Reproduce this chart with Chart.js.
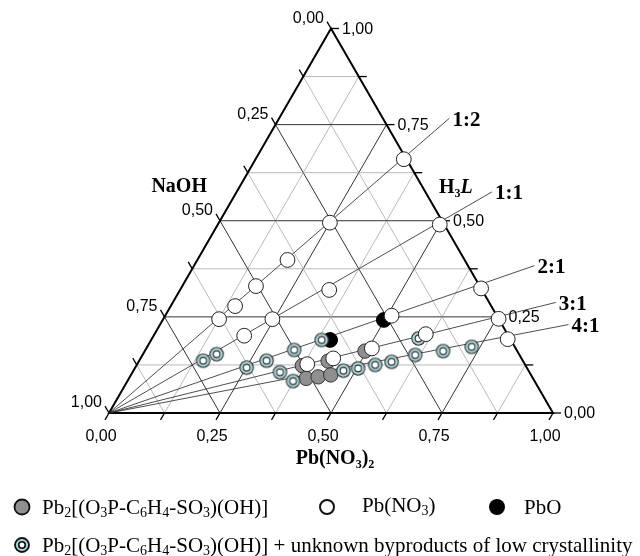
<!DOCTYPE html>
<html>
<head>
<meta charset="utf-8">
<script src="https://cdn.jsdelivr.net/npm/chart.js@4.4.1/dist/chart.umd.min.js"></script>
<style>
body { margin: 0; background: #fff; }
#wrap { position: relative; width: 640px; height: 556px; overflow: hidden; }
#tern { position: absolute; left: 0; top: 0; }
.lg { position: absolute; font-family: "Liberation Serif", "Times New Roman", serif; font-size: 21px; line-height: 24px; white-space: nowrap; color: #000; }
.lg sub { font-size: 14px; vertical-align: -3px; line-height: 0; }
.mk { position: absolute; }
</style>
</head>
<body>
<div id="wrap">
  <canvas id="tern" width="640" height="556"></canvas>

  <svg class="mk" style="left:12px;top:497px" width="20" height="20"><circle cx="10" cy="10" r="7.5" fill="#8f8f8f" stroke="#111" stroke-width="1.8"/></svg>
  <div class="lg" style="left:42px;top:495px">Pb<sub>2</sub>[(O<sub>3</sub>P-C<sub>6</sub>H<sub>4</sub>-SO<sub>3</sub>)(OH)]</div>

  <svg class="mk" style="left:317px;top:497px" width="20" height="20"><circle cx="10" cy="10" r="7" fill="#fff" stroke="#111" stroke-width="2"/></svg>
  <div class="lg" style="left:362px;top:493px">Pb(NO<sub>3</sub>)</div>

  <svg class="mk" style="left:487px;top:497px" width="20" height="20"><circle cx="10" cy="10" r="8" fill="#000"/></svg>
  <div class="lg" style="left:524px;top:495px">PbO</div>

  <svg class="mk" style="left:12px;top:535px" width="20" height="20"><circle cx="10" cy="10" r="7" fill="#a9d8dc" stroke="#111" stroke-width="1.8"/><circle cx="10" cy="10" r="3.3" fill="#fff" stroke="#111" stroke-width="1.6"/></svg>
  <div class="lg" style="left:42px;top:533px">Pb<sub>2</sub>[(O<sub>3</sub>P-C<sub>6</sub>H<sub>4</sub>-SO<sub>3</sub>)(OH)] + unknown byproducts of low crystallinity</div>
</div>
<script>
// tick labels on every axis (0 .. 1 by 0.25)
const tickLabels = ['0,00', '0,25', '0,50', '0,75', '1,00'];
// Pb : H3L ratio lines starting in the NaOH corner
const ratioLabels = ['1:2', '1:1', '2:1', '3:1', '4:1'];
const ratioPbPerL = [0.5, 1, 2, 3, 4];

// mole fractions: Pb(NO3)2 and H3L (NaOH is the rest)
const greyPb = [0.496, 0.426, 0.374, 0.399, 0.424, 0.450];
const greyL  = [0.161, 0.135, 0.123, 0.090, 0.094, 0.099];

const whitePb = [0.334, 0.250, 0.500, 0.203, 0.166, 0.145, 0.126, 0.336, 0.246, 0.204,
                 0.676, 0.510, 0.755, 0.611, 0.802, 0.508, 0.434, 0.383];
const whiteL  = [0.660, 0.495, 0.490, 0.398, 0.330, 0.278, 0.244, 0.320, 0.244, 0.201,
                 0.324, 0.253, 0.245, 0.205, 0.192, 0.168, 0.142, 0.127];

const blackPb = [0.498, 0.403];
const blackL  = [0.242, 0.190];

const mixPb = [0.144, 0.166, 0.335, 0.384, 0.251, 0.287, 0.332, 0.373, 0.473, 0.503,
               0.537, 0.570, 0.614, 0.672, 0.731, 0.600];
const mixL  = [0.136, 0.153, 0.164, 0.190, 0.118, 0.136, 0.106, 0.083, 0.110, 0.116,
               0.125, 0.133, 0.151, 0.161, 0.172, 0.194];

const SQ = Math.sqrt(3) / 2;
function cart(pb, l) {
    return { x: pb + l / 2, y: l * SQ };
}
function toPoints(pbs, ls) {
    return pbs.map((pb, i) => cart(pb, ls[i]));
}

// where the triangle sits on the canvas
const OX = 109, OY = 413, U = 444;
const reach = 1.15;

function ringMarker(r) {
    const s = Math.ceil(r * 2 + 3);
    const c = document.createElement('canvas');
    c.width = s;
    c.height = s;
    const g = c.getContext('2d');
    g.lineWidth = 1.1;
    g.strokeStyle = '#333';
    g.fillStyle = '#a9d8dc';
    g.beginPath();
    g.arc(s / 2, s / 2, r, 0, 2 * Math.PI);
    g.fill();
    g.stroke();
    g.fillStyle = '#fff';
    g.beginPath();
    g.arc(s / 2, s / 2, r * 0.5, 0, 2 * Math.PI);
    g.fill();
    g.stroke();
    return c;
}

function richText(ctx, parts, x, y, size) {
    // parts: [text, style] ; style 'b' bold, 'bi' bold italic, 's' subscript
    const fam = '"Liberation Serif", "Times New Roman", serif';
    const fontOf = (st) => st === 's' ? 'bold ' + Math.round(size * 0.62) + 'px ' + fam
        : (st === 'bi' ? 'italic bold ' : 'bold ') + size + 'px ' + fam;
    let w = 0;
    parts.forEach(p => { ctx.font = fontOf(p[1]); w += ctx.measureText(p[0]).width; });
    let cx = x - w / 2;
    ctx.textAlign = 'left';
    ctx.textBaseline = 'alphabetic';
    parts.forEach(p => {
        ctx.font = fontOf(p[1]);
        ctx.fillText(p[0], cx, p[1] === 's' ? y + size * 0.2 : y);
        cx += ctx.measureText(p[0]).width;
    });
}

const ternaryFrame = {
    id: 'ternaryFrame',
    beforeDatasetsDraw(chart) {
        const ctx = chart.ctx;
        const xs = chart.scales.x, ys = chart.scales.y;
        const px = (pb, l) => {
            const c = cart(pb, l);
            return [xs.getPixelForValue(c.x), ys.getPixelForValue(c.y)];
        };
        const seg = (a, b) => {
            ctx.beginPath();
            ctx.moveTo(a[0], a[1]);
            ctx.lineTo(b[0], b[1]);
            ctx.stroke();
        };
        ctx.save();

        // grid, every 1/8
        for (let k = 1; k < 8; k++) {
            const f = k / 8;
            ctx.strokeStyle = k % 2 ? '#a8a8a8' : '#333';
            ctx.lineWidth = k % 2 ? 0.8 : 1;
            seg(px(0, f), px(1 - f, f));
            seg(px(f, 0), px(f, 1 - f));
            seg(px(1 - f, 0), px(0, 1 - f));
        }

        // frame
        ctx.strokeStyle = '#000';
        ctx.lineWidth = 2;
        ctx.lineJoin = 'miter';
        ctx.beginPath();
        const a = px(0, 0), b = px(1, 0), c = px(0, 1);
        ctx.moveTo(a[0], a[1]);
        ctx.lineTo(b[0], b[1]);
        ctx.lineTo(c[0], c[1]);
        ctx.closePath();
        ctx.stroke();

        // ticks and labels
        const tl = 8;
        ctx.lineWidth = 1.3;
        ctx.fillStyle = '#000';
        ctx.font = '16px "Liberation Sans", Arial, sans-serif';
        for (let k = 0; k <= 8; k++) {
            const f = k / 8;
            const lab = k % 2 === 0 ? tickLabels[k / 2] : null;

            // Pb(NO3)2, bottom
            let p = px(f, 0);
            let e = [p[0] - tl * 0.5, p[1] + tl * SQ];
            seg(p, e);
            if (lab) {
                ctx.textAlign = 'center';
                ctx.textBaseline = 'middle';
                ctx.fillText(lab, e[0] - 4, e[1] + 17);
            }

            // H3L, right
            p = px(1 - f, f);
            e = [p[0] + tl, p[1]];
            seg(p, e);
            if (lab) {
                ctx.textAlign = 'left';
                ctx.textBaseline = 'middle';
                ctx.fillText(lab, e[0] + 3, e[1] + 1);
            }

            // NaOH, left
            p = px(0, 1 - f);
            e = [p[0] - tl * 0.5, p[1] - tl * SQ];
            seg(p, e);
            if (lab) {
                ctx.textAlign = 'right';
                ctx.textBaseline = 'middle';
                ctx.fillText(lab, e[0] - 3, e[1] - 3);
            }
        }

        // axis titles
        const bm = px(0.5, 0), lm = px(0, 0.6), rm = px(0.4, 0.6);
        richText(ctx, [['Pb(NO', 'b'], ['3', 's'], [')', 'b'], ['2', 's']], bm[0] + 4, bm[1] + 51, 20);
        richText(ctx, [['NaOH', 'b']], lm[0] - 63, lm[1] + 9.5, 20);
        richText(ctx, [['H', 'b'], ['3', 's'], ['L', 'bi']], rm[0] + 36, rm[1] + 10.5, 20);

        // ratio labels at the end of each line
        ctx.font = 'bold 21px "Liberation Serif", "Times New Roman", serif';
        ctx.textAlign = 'left';
        ctx.textBaseline = 'middle';
        ratioPbPerL.forEach((r, i) => {
            const q = px(reach * r / (1 + r), reach / (1 + r));
            ctx.fillText(ratioLabels[i], q[0] + 3, q[1] + 2);
        });

        ctx.restore();
    }
};

const ratioLines = ratioPbPerL.map(r => ({
    data: [cart(0, 0), cart(reach * r / (1 + r), reach / (1 + r))],
    showLine: true,
    borderColor: '#222',
    borderWidth: 0.8,
    pointRadius: 0,
    order: 5
}));

new Chart(document.getElementById('tern'), {
    type: 'scatter',
    data: {
        datasets: [
            ...ratioLines,
            {
                label: 'Pb2[(O3P-C6H4-SO3)(OH)]',
                data: toPoints(greyPb, greyL),
                pointRadius: 7.2,
                backgroundColor: '#8f8f8f',
                borderColor: '#333',
                borderWidth: 1,
                order: 4
            },
            {
                label: 'PbO',
                data: toPoints(blackPb, blackL),
                pointRadius: 7.4,
                backgroundColor: '#000',
                borderColor: '#000',
                borderWidth: 1,
                order: 3
            },
            {
                label: 'Pb2[(O3P-C6H4-SO3)(OH)] + byproducts',
                data: toPoints(mixPb, mixL),
                pointStyle: ringMarker(6.7),
                order: 2
            },
            {
                label: 'Pb(NO3)',
                data: toPoints(whitePb, whiteL),
                pointRadius: 7.4,
                backgroundColor: '#fff',
                borderColor: '#222',
                borderWidth: 1,
                order: 1
            }
        ]
    },
    options: {
        responsive: false,
        animation: false,
        events: [],
        clip: false,
        layout: { padding: 0, autoPadding: false },
        scales: {
            x: { type: 'linear', display: false, min: -OX / U, max: (640 - OX) / U },
            y: { type: 'linear', display: false, min: -(556 - OY) / U, max: OY / U }
        },
        plugins: {
            legend: { display: false },
            tooltip: { enabled: false }
        }
    },
    plugins: [ternaryFrame]
});
</script>
</body>
</html>
